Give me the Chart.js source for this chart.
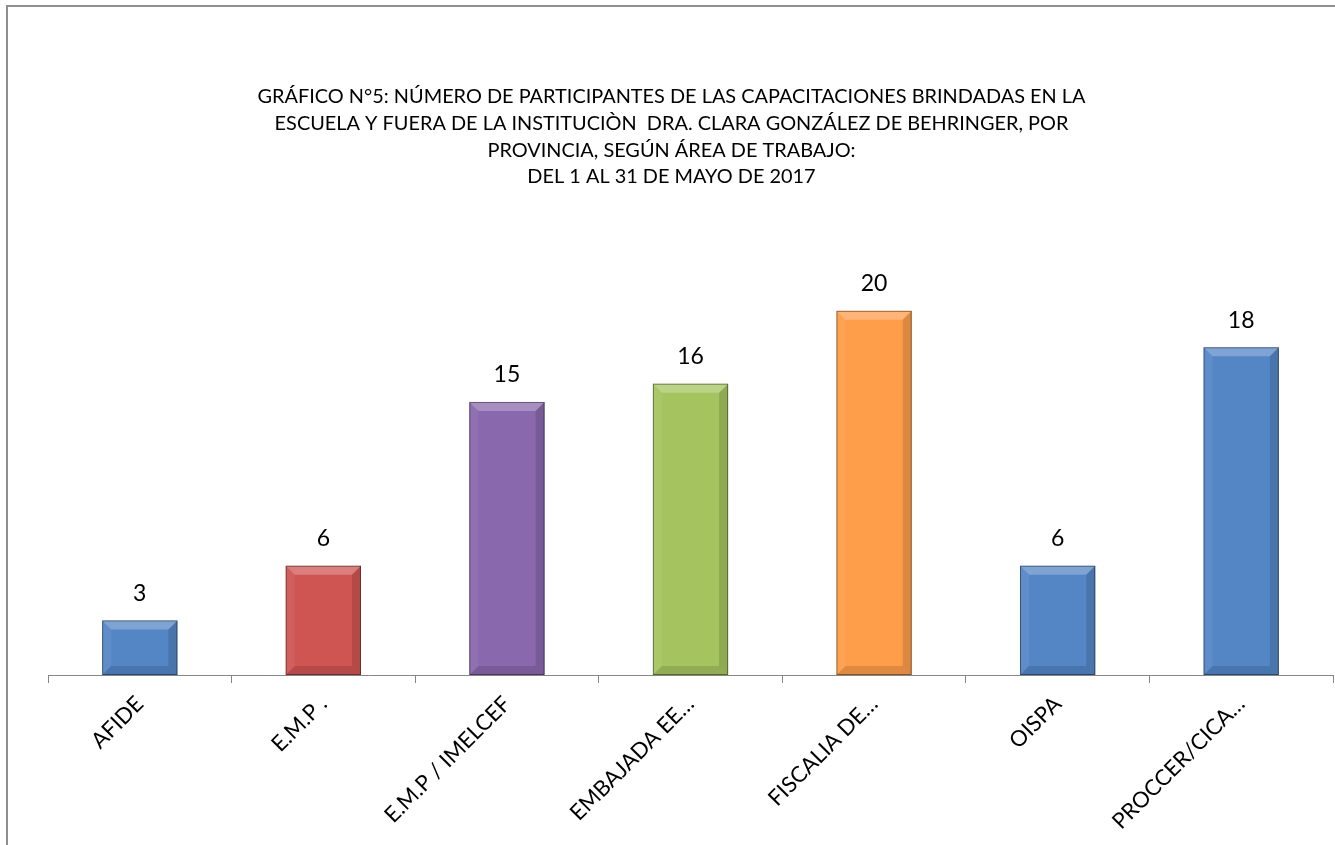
<!DOCTYPE html>
<html>
<head>
<meta charset="utf-8">
<script src="https://cdn.jsdelivr.net/npm/chart.js@4"></script>
<style>
  html, body { margin: 0; padding: 0; background: #fff; }
  #wrap { width: 1335px; height: 845px; }
</style>
</head>
<body>
<div id="wrap"><canvas id="chart" width="1335" height="845"></canvas></div>
<script>
const categories = ['AFIDE', 'E.M.P .', 'E.M.P / IMELCEF', 'EMBAJADA EE…', 'FISCALIA DE…', 'OISPA', 'PROCCER/CICA…'];
const participants = [3, 6, 15, 16, 20, 6, 18];
const barColors = ['#5486C6', '#CF5553', '#8A68AD', '#A5C45F', '#FE9D4A', '#5486C6', '#5486C6'];
const titleLines = [
  'GRÁFICO N°5: NÚMERO DE PARTICIPANTES DE LAS CAPACITACIONES BRINDADAS EN LA',
  'ESCUELA Y FUERA DE LA INSTITUCIÒN  DRA. CLARA GONZÁLEZ DE BEHRINGER, POR',
  'PROVINCIA, SEGÚN ÁREA DE TRABAJO:',
  'DEL 1 AL 31 DE MAYO DE 2017'
];

const FONT = 'Lato, "Open Sans", sans-serif';

// frame around the chart like the office chart border
const framePlugin = {
  id: 'frame',
  beforeDraw(chart) {
    const c = chart.ctx;
    c.save();
    c.fillStyle = '#fff';
    c.fillRect(0, 0, chart.width, chart.height);
    c.strokeStyle = '#8e8e8e';
    c.lineWidth = 2;
    c.strokeRect(7, 6, chart.width + 20, chart.height + 20);
    c.restore();
  }
};

// bevel look on the bars + value labels above them
const bevelPlugin = {
  id: 'bevel',
  afterDatasetsDraw(chart) {
    const c = chart.ctx;
    const meta = chart.getDatasetMeta(0);
    c.save();
    meta.data.forEach((bar, i) => {
      const l = bar.x - bar.width / 2, r = bar.x + bar.width / 2;
      const t = bar.y, b = bar.base;
      const d = Math.min(9, (b - t) / 2);
      // top bevel
      c.fillStyle = 'rgba(255,255,255,0.25)';
      c.beginPath();
      c.moveTo(l, t); c.lineTo(r, t); c.lineTo(r - d, t + d); c.lineTo(l + d, t + d); c.closePath();
      c.fill();
      // left bevel
      c.fillStyle = 'rgba(255,255,255,0.06)';
      c.beginPath();
      c.moveTo(l, t); c.lineTo(l + d, t + d); c.lineTo(l + d, b - d); c.lineTo(l, b); c.closePath();
      c.fill();
      // right bevel
      c.fillStyle = 'rgba(0,0,0,0.13)';
      c.beginPath();
      c.moveTo(r, t); c.lineTo(r - d, t + d); c.lineTo(r - d, b - d); c.lineTo(r, b); c.closePath();
      c.fill();
      // bottom bevel
      c.fillStyle = 'rgba(0,0,0,0.12)';
      c.beginPath();
      c.moveTo(l, b); c.lineTo(l + d, b - d); c.lineTo(r - d, b - d); c.lineTo(r, b); c.closePath();
      c.fill();
      // thin dark edge
      c.strokeStyle = 'rgba(0,0,0,0.4)';
      c.lineWidth = 1;
      c.strokeRect(l + 0.5, t + 0.5, bar.width - 1, b - t - 1);

      c.fillStyle = '#000';
      c.font = '23px ' + FONT;
      c.textAlign = 'center';
      c.textBaseline = 'middle';
      c.fillText(String(participants[i]), bar.x, t - 27);
    });
    c.restore();
  }
};

const ctx = document.getElementById('chart').getContext('2d');
const chart = new Chart(ctx, {
  type: 'bar',
  data: {
    labels: categories,
    datasets: [{
      data: participants,
      backgroundColor: barColors,
      borderWidth: 0,
      categoryPercentage: 1,
      barPercentage: 0.41
    }]
  },
  options: {
    responsive: false,
    animation: false,
    layout: { padding: { left: 10, right: 2, top: 0, bottom: 0 } },
    plugins: {
      legend: { display: false },
      tooltip: { enabled: false },
      title: {
        display: true,
        text: titleLines,
        color: '#000',
        font: { family: FONT, size: 19.9, weight: 'normal', lineHeight: 1.35 },
        padding: { top: 83, bottom: 84 }
      }
    },
    scales: {
      x: {
        afterFit(scale) { scale.height = 170; },
        grid: {
          offset: true,
          drawOnChartArea: false,
          drawTicks: true,
          tickLength: 8,
          color: '#878787'
        },
        border: { color: '#878787', width: 1 },
        ticks: {
          color: '#000',
          font: { family: FONT, size: 22 },
          minRotation: 45,
          maxRotation: 45,
          autoSkip: false,
          padding: 8
        }
      },
      y: {
        // hidden value axis, only keeps the left gap of the plot
        afterFit(scale) { scale.width = 38; },
        min: 0,
        max: 22,
        grid: { display: false },
        border: { display: false },
        ticks: { display: false }
      }
    }
  },
  plugins: [framePlugin, bevelPlugin]
});
</script>
</body>
</html>
